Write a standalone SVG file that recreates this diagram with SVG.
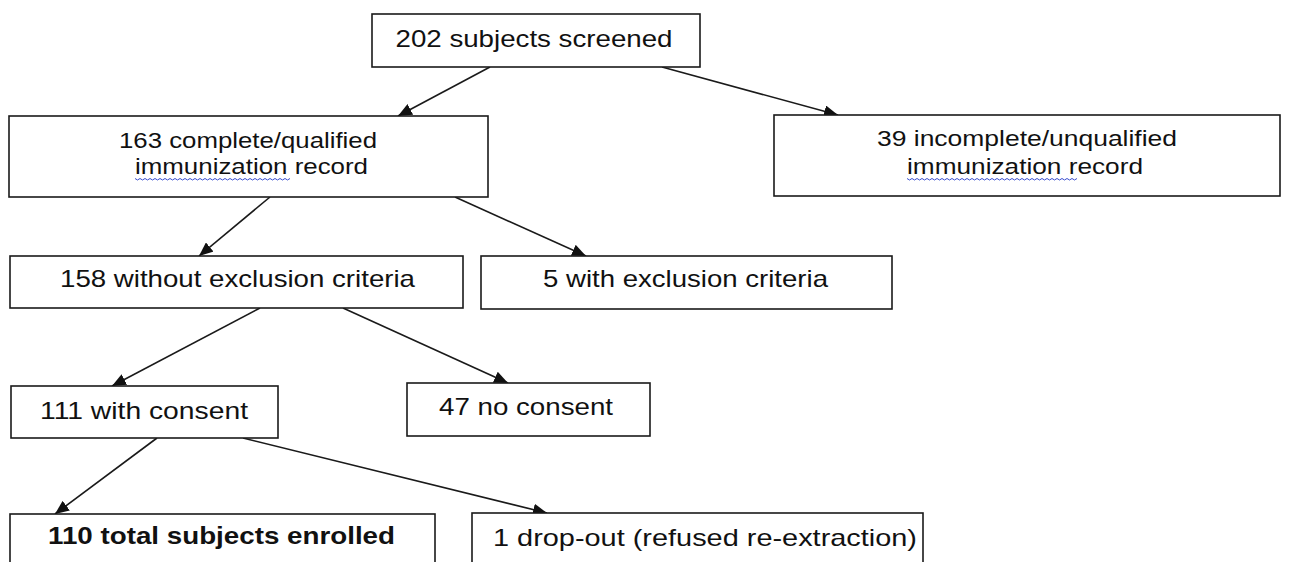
<svg xmlns="http://www.w3.org/2000/svg" width="1309" height="562" viewBox="0 0 1309 562">
<defs>
<style>
.box{fill:#fff;stroke:#1a1a1a;stroke-width:1.6}
.t{font-family:"Liberation Sans",Arial,sans-serif;font-size:24px;fill:#111;text-anchor:middle}
.t2{font-size:22.5px}
.b{font-weight:bold}
.c{stroke:#1a1a1a;stroke-width:1.6;fill:none;marker-end:url(#ah)}
.wave{stroke:#3a4fd0;stroke-width:1;fill:none}
</style>
<marker id="ah" viewBox="0 0 14 12" refX="14" refY="6" markerWidth="14" markerHeight="12" markerUnits="userSpaceOnUse" orient="auto">
<path d="M0,0 L14,6 L0,12 Z" fill="#111"/>
</marker>
</defs>
<rect width="1309" height="562" fill="#fff"/>
<g id="connectors">
<line class="c" x1="490" y1="67" x2="398" y2="116"/>
<line class="c" x1="662" y1="67" x2="838" y2="115"/>
<line class="c" x1="270" y1="197" x2="199" y2="256"/>
<line class="c" x1="455" y1="197" x2="586" y2="256"/>
<line class="c" x1="260" y1="308" x2="112" y2="386"/>
<line class="c" x1="343" y1="308" x2="508" y2="383"/>
<line class="c" x1="157" y1="438" x2="55" y2="514"/>
<line class="c" x1="243" y1="438" x2="547" y2="513"/>
</g>
<g id="n1">
<rect class="box" x="372" y="14" width="328" height="53"/>
<text class="t" x="534" y="47" textLength="277" lengthAdjust="spacingAndGlyphs">202 subjects screened</text>
</g>
<g id="n2">
<rect class="box" x="9" y="116" width="479" height="81"/>
<text class="t t2" x="248" y="148" textLength="258" lengthAdjust="spacingAndGlyphs">163 complete/qualified</text>
<text class="t t2" x="251.5" y="174" textLength="233" lengthAdjust="spacingAndGlyphs">immunization record</text>
<path class="wave" d="M135,178.5 l2.5,1.5 l2.5,-1.5 l2.5,1.5 l2.5,-1.5 l2.5,1.5 l2.5,-1.5 l2.5,1.5 l2.5,-1.5 l2.5,1.5 l2.5,-1.5 l2.5,1.5 l2.5,-1.5 l2.5,1.5 l2.5,-1.5 l2.5,1.5 l2.5,-1.5 l2.5,1.5 l2.5,-1.5 l2.5,1.5 l2.5,-1.5 l2.5,1.5 l2.5,-1.5 l2.5,1.5 l2.5,-1.5 l2.5,1.5 l2.5,-1.5 l2.5,1.5 l2.5,-1.5 l2.5,1.5 l2.5,-1.5 l2.5,1.5 l2.5,-1.5 l2.5,1.5 l2.5,-1.5 l2.5,1.5 l2.5,-1.5 l2.5,1.5 l2.5,-1.5 l2.5,1.5 l2.5,-1.5 l2.5,1.5 l2.5,-1.5 l2.5,1.5 l2.5,-1.5 l2.5,1.5 l2.5,-1.5 l2.5,1.5 l2.5,-1.5 l2.5,1.5 l2.5,-1.5 l2.5,1.5 l2.5,-1.5 l2.5,1.5 l2.5,-1.5 l2.5,1.5 l2.5,-1.5 l2.5,1.5 l2.5,-1.5 l2.5,1.5 l2.5,-1.5 l2.5,1.5 l2.5,-1.5"/>
</g>
<g id="n3">
<rect class="box" x="774" y="115" width="506" height="81"/>
<text class="t t2" x="1027" y="146" textLength="300" lengthAdjust="spacingAndGlyphs">39 incomplete/unqualified</text>
<text class="t t2" x="1025" y="174" textLength="236" lengthAdjust="spacingAndGlyphs">immunization record</text>
<path class="wave" d="M907,178.5 l2.5,1.5 l2.5,-1.5 l2.5,1.5 l2.5,-1.5 l2.5,1.5 l2.5,-1.5 l2.5,1.5 l2.5,-1.5 l2.5,1.5 l2.5,-1.5 l2.5,1.5 l2.5,-1.5 l2.5,1.5 l2.5,-1.5 l2.5,1.5 l2.5,-1.5 l2.5,1.5 l2.5,-1.5 l2.5,1.5 l2.5,-1.5 l2.5,1.5 l2.5,-1.5 l2.5,1.5 l2.5,-1.5 l2.5,1.5 l2.5,-1.5 l2.5,1.5 l2.5,-1.5 l2.5,1.5 l2.5,-1.5 l2.5,1.5 l2.5,-1.5 l2.5,1.5 l2.5,-1.5 l2.5,1.5 l2.5,-1.5 l2.5,1.5 l2.5,-1.5 l2.5,1.5 l2.5,-1.5 l2.5,1.5 l2.5,-1.5 l2.5,1.5 l2.5,-1.5 l2.5,1.5 l2.5,-1.5 l2.5,1.5 l2.5,-1.5 l2.5,1.5 l2.5,-1.5 l2.5,1.5 l2.5,-1.5 l2.5,1.5 l2.5,-1.5 l2.5,1.5 l2.5,-1.5 l2.5,1.5 l2.5,-1.5 l2.5,1.5 l2.5,-1.5 l2.5,1.5 l2.5,-1.5 l2.5,1.5 l2.5,-1.5 l2.5,1.5 l2.5,-1.5 l2.5,1.5 l2.5,-1.5"/>
</g>
<g id="n4">
<rect class="box" x="10" y="256" width="453" height="52"/>
<text class="t" x="237.5" y="287" textLength="355" lengthAdjust="spacingAndGlyphs">158 without exclusion criteria</text>
</g>
<g id="n5">
<rect class="box" x="481" y="256" width="411" height="53"/>
<text class="t" x="685.5" y="287" textLength="285" lengthAdjust="spacingAndGlyphs">5 with exclusion criteria</text>
</g>
<g id="n6">
<rect class="box" x="11" y="386" width="267" height="52"/>
<text class="t" x="144" y="419" textLength="208" lengthAdjust="spacingAndGlyphs">111 with consent</text>
</g>
<g id="n7">
<rect class="box" x="407" y="383" width="243" height="53"/>
<text class="t" x="526" y="415" textLength="174" lengthAdjust="spacingAndGlyphs">47 no consent</text>
</g>
<g id="n8">
<rect class="box" x="10" y="514" width="425" height="70"/>
<text class="t b" x="221.5" y="544" textLength="347" lengthAdjust="spacingAndGlyphs">110 total subjects enrolled</text>
</g>
<g id="n9">
<rect class="box" x="472" y="513" width="451" height="70"/>
<text class="t" x="705" y="546" textLength="424" lengthAdjust="spacingAndGlyphs">1 drop-out (refused re-extraction)</text>
</g>
</svg>
